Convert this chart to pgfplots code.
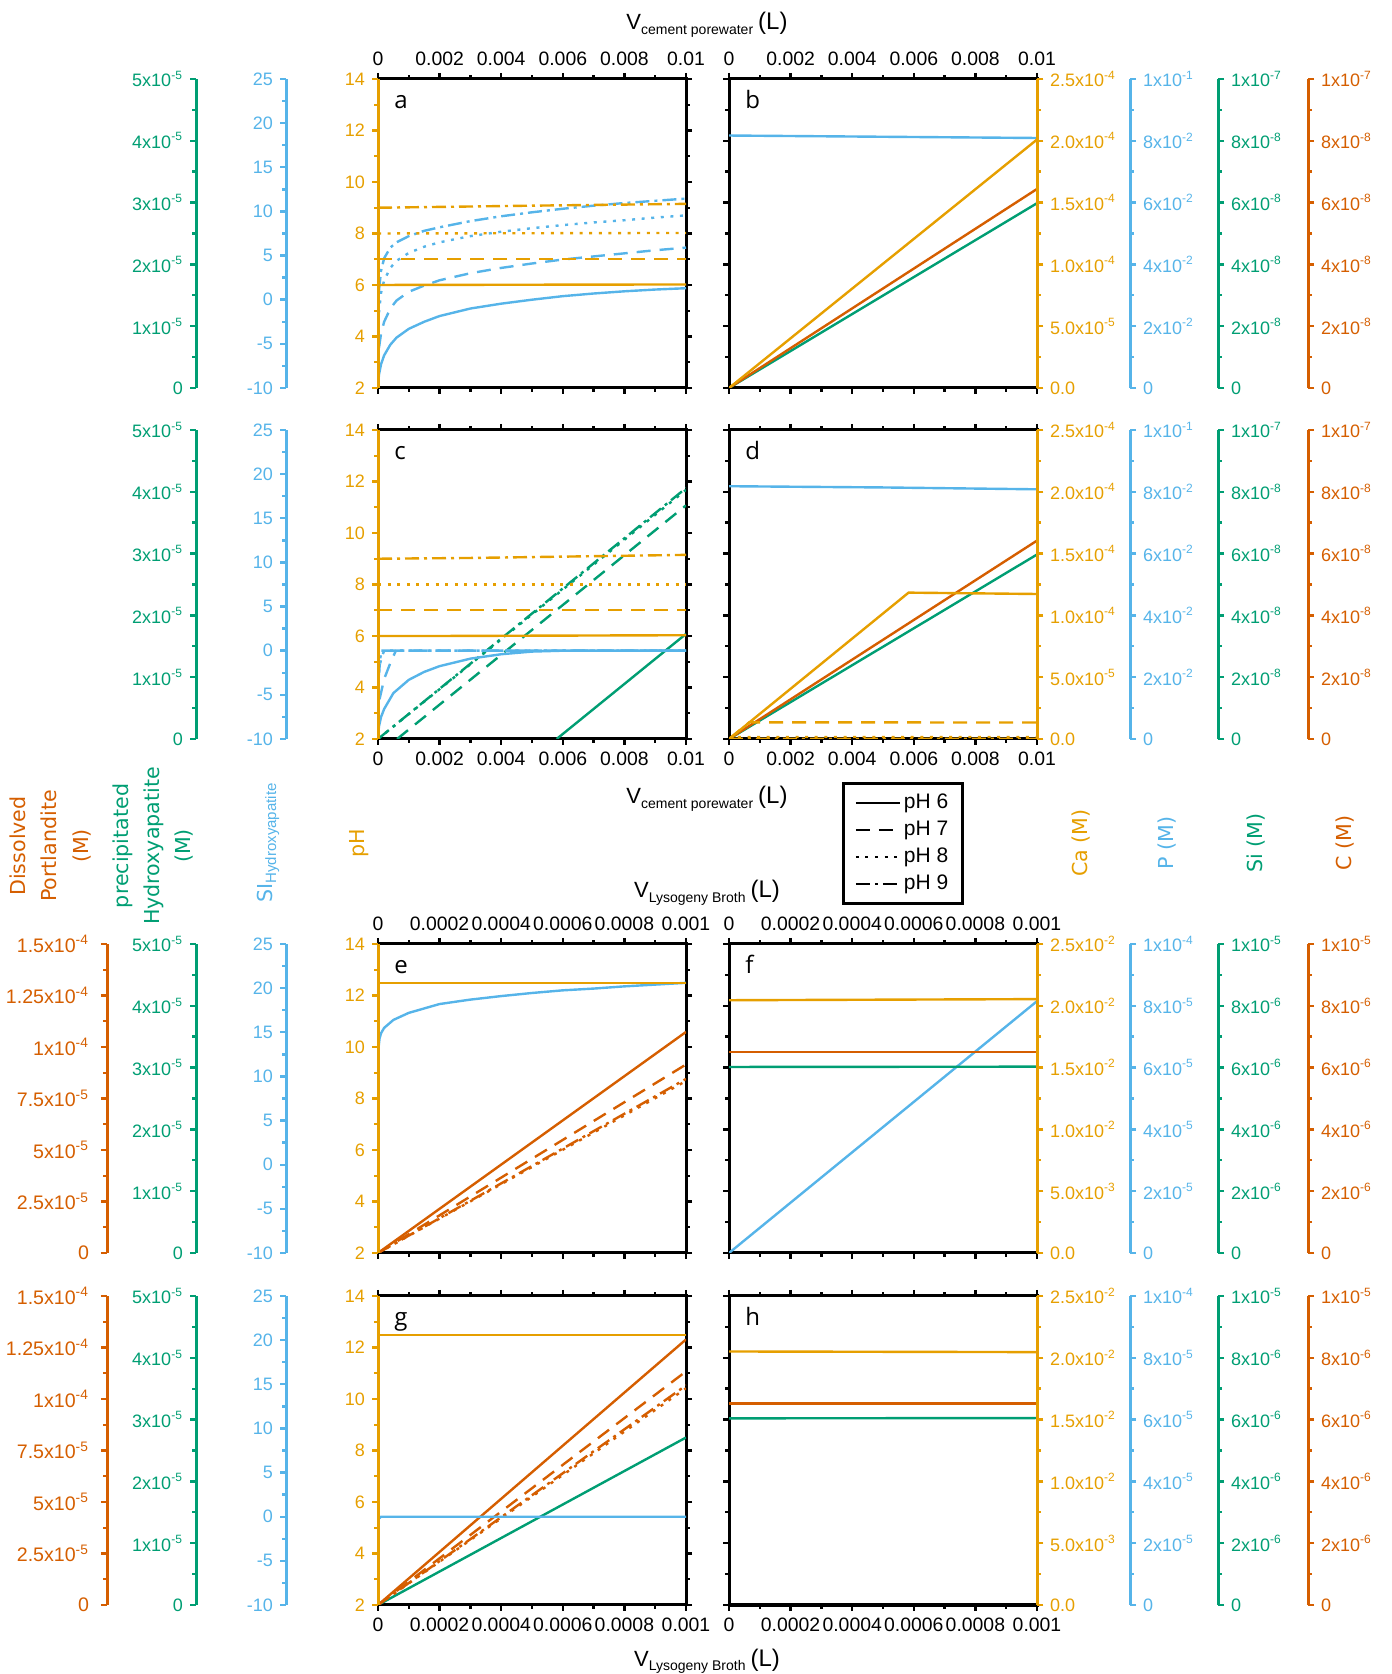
\documentclass[border=0pt]{standalone}
\usepackage{fontspec}
\setmainfont{Liberation Sans}
\newfontfamily\dejavu{DejaVu Sans}
\newfontfamily\opensans{Open Sans}
\usepackage{pgfplots}
\pgfplotsset{compat=1.18}
\definecolor{cOr}{HTML}{E69F00}
\definecolor{cBl}{HTML}{56B4E9}
\definecolor{cGr}{HTML}{009E73}
\definecolor{cVe}{HTML}{D55E00}
\newcommand{\tk}{\fontsize{9}{10}\selectfont}
\newcommand{\tkx}{\fontsize{9.7}{11}\selectfont}
\newcommand{\sx}[2]{#1x10\textsuperscript{#2}}
\newcommand{\vtitle}[1]{{\fontsize{11}{12}\selectfont V}\raisebox{-2.2pt}{\fontsize{7}{8}\selectfont #1}\hspace{2.5pt}{\fontsize{12}{13}\selectfont (L)}}
\tikzset{letter/.style={anchor=base west, font=\opensans\fontsize{12}{14}\selectfont},
  ttl/.style={rotate=90, align=center, font=\dejavu\fontsize{10.3}{15.7}\selectfont}}
\pgfplotsset{
  base/.style={scale only axis, height=154.5pt, scaled ticks=false, no markers,
    tick align=outside, major tick length=3pt, minor tick length=1.8pt,
    tick label style={font=\tk}, xticklabel style={font=\tkx},
    every tick/.append style={line width=1.2pt}},
  P/.style={base, width=154pt, anchor=south west},
  xA/.style={xmin=0,xmax=0.01,xtick={0,0.002,0.004,0.006,0.008,0.01},
    xticklabels={0,0.002,0.004,0.006,0.008,0.01},minor x tick num=1},
  xB/.style={xmin=0,xmax=0.001,xtick={0,0.0002,0.0004,0.0006,0.0008,0.001},
    xticklabels={0,0.0002,0.0004,0.0006,0.0008,0.001},minor x tick num=1},
  yPH/.style={ymin=2,ymax=14,ytick={2,4,6,8,10,12,14},minor y tick num=1},
  yCa/.style={ymin=0,ymax=2.5e-4,ytick={0,5e-5,1e-4,1.5e-4,2e-4,2.5e-4},minor y tick num=1},
  yCb/.style={ymin=0,ymax=0.025,ytick={0,0.005,0.01,0.015,0.02,0.025},minor y tick num=1},
  caA/.style={yCa,yticklabels={0.0,\sx{5.0}{-5},\sx{1.0}{-4},\sx{1.5}{-4},\sx{2.0}{-4},\sx{2.5}{-4}}},
  caB/.style={yCb,yticklabels={0.0,\sx{5.0}{-3},\sx{1.0}{-2},\sx{1.5}{-2},\sx{2.0}{-2},\sx{2.5}{-2}}},
  pA/.style={ymin=0,ymax=0.1,ytick={0,0.02,0.04,0.06,0.08,0.1},yticklabels={0,\sx{2}{-2},\sx{4}{-2},\sx{6}{-2},\sx{8}{-2},\sx{1}{-1}}},
  pB/.style={ymin=0,ymax=1e-4,ytick={0,2e-5,4e-5,6e-5,8e-5,1e-4},yticklabels={0,\sx{2}{-5},\sx{4}{-5},\sx{6}{-5},\sx{8}{-5},\sx{1}{-4}}},
  nA/.style={ymin=0,ymax=1e-7,ytick={0,2e-8,4e-8,6e-8,8e-8,1e-7},yticklabels={0,\sx{2}{-8},\sx{4}{-8},\sx{6}{-8},\sx{8}{-8},\sx{1}{-7}}},
  nB/.style={ymin=0,ymax=1e-5,ytick={0,2e-6,4e-6,6e-6,8e-6,1e-5},yticklabels={0,\sx{2}{-6},\sx{4}{-6},\sx{6}{-6},\sx{8}{-6},\sx{1}{-5}}},
  grA/.style={ymin=0,ymax=5e-5,ytick={0,1e-5,2e-5,3e-5,4e-5,5e-5},yticklabels={0,\sx{1}{-5},\sx{2}{-5},\sx{3}{-5},\sx{4}{-5},\sx{5}{-5}}},
  siA/.style={ymin=-10,ymax=25,ytick={-10,-5,0,5,10,15,20,25},yticklabels={-10,-5,0,5,10,15,20,25}},
  poA/.style={ymin=0,ymax=1.5e-4,ytick={0,2.5e-5,5e-5,7.5e-5,1e-4,1.25e-4,1.5e-4},yticklabels={0,\sx{2.5}{-5},\sx{5}{-5},\sx{7.5}{-5},\sx{1}{-4},\sx{1.25}{-4},\sx{1.5}{-4}}},
  frame/.style={P, axis line style={line width=1.5pt}, every tick/.append style={black}, yticklabels={,,,,,,,,,}},
  dat/.style={P, hide axis},
  ovL/.style={P, hide x axis, axis y line*=left, axis line style={cOr,line width=1.5pt},
    every tick/.append style={cOr}, yticklabel style={cOr}},
  ovR/.style={P, hide x axis, axis y line*=right, axis line style={cOr,line width=1.5pt},
    every tick/.append style={cOr}, yticklabel style={cOr}},
  sL/.style={base, width=10pt, anchor=south west, xmin=0,xmax=1, hide x axis, axis y line*=left,
    axis line style={#1,line width=1.5pt}, every tick/.append style={#1}, yticklabel style={#1}, minor y tick num=1},
  sR/.style={base, width=10pt, anchor=south east, xmin=0,xmax=1, hide x axis, axis y line*=right,
    axis line style={#1,line width=1.5pt}, every tick/.append style={#1}, yticklabel style={#1}, minor y tick num=1},
  poL/.style={sL=cVe, poA, yticklabel style={font=\fontsize{9.8}{10}\selectfont, xshift=-2.5pt}},
  s6/.style={line width=1.2pt},
  s7/.style={line width=1.2pt, dash pattern=on 7pt off 4.5pt},
  s8/.style={line width=1.2pt, dash pattern=on 1.5pt off 3.3pt},
  s9/.style={line width=1.2pt, dash pattern=on 7pt off 2.5pt on 1.5pt off 2.5pt},
}
\begin{document}
\begin{tikzpicture}
\path[use as bounding box] (0,0) rectangle (695.5pt,837pt);

% ================= ROW 1 : a , b =================
\begin{axis}[frame, at={(189pt,643pt)}, xA, yPH, xticklabel pos=top]
\node[letter] at (rel axis cs:0.03,0.903) {a};
\end{axis}
\begin{axis}[dat, at={(189pt,643pt)}, xA, siA]
\addplot[cBl,s6] coordinates {(0,-10) (0.00003,-8.5) (0.0001,-7.3) (0.0002,-6.3) (0.0004,-5.1) (0.0006,-4.3) (0.001,-3.3) (0.0015,-2.5) (0.002,-1.85) (0.003,-1.0) (0.004,-0.45) (0.005,0.0) (0.006,0.4) (0.007,0.7) (0.008,0.95) (0.009,1.15) (0.01,1.3)};
\addplot[cBl,s7] coordinates {(0.00003,-5.5) (0.0001,-3.8) (0.0002,-2.5) (0.0004,-1.0) (0.0006,-0.1) (0.001,0.9) (0.0015,1.6) (0.002,2.2) (0.003,3.0) (0.004,3.6) (0.005,4.1) (0.006,4.55) (0.007,4.9) (0.008,5.25) (0.009,5.6) (0.01,5.9)};
\addplot[cBl,s8] coordinates {(0.00003,-1.5) (0.0001,0.8) (0.0002,2.2) (0.0004,3.6) (0.0006,4.4) (0.001,5.3) (0.0015,6.0) (0.002,6.5) (0.003,7.2) (0.004,7.7) (0.005,8.1) (0.006,8.45) (0.007,8.75) (0.008,9.0) (0.009,9.3) (0.01,9.55)};
\addplot[cBl,s9] coordinates {(0.00003,1.0) (0.0001,3.3) (0.0002,4.7) (0.0004,5.9) (0.0006,6.5) (0.001,7.2) (0.0015,7.8) (0.002,8.2) (0.003,8.9) (0.004,9.45) (0.005,9.9) (0.006,10.3) (0.007,10.65) (0.008,10.95) (0.009,11.2) (0.01,11.45)};
\end{axis}
\begin{axis}[ovL, at={(189pt,643pt)}, xA, yPH, yticklabels={2,4,6,8,10,12,14}]
\addplot[cOr,s6] coordinates {(0,6.0) (0.01,6.02)};
\addplot[cOr,s7] coordinates {(0,7.0) (0.01,7.0)};
\addplot[cOr,s8] coordinates {(0,8.0) (0.01,8.02)};
\addplot[cOr,s9] coordinates {(0,9.0) (0.005,9.08) (0.01,9.15)};
\end{axis}

\begin{axis}[frame, at={(364.5pt,643pt)}, xA, yCa, xticklabel pos=top]
\node[letter] at (rel axis cs:0.03,0.903) {b};
\end{axis}
\begin{axis}[dat, at={(364.5pt,643pt)}, xA, pA]
\addplot[cBl,s6] coordinates {(0,0.0817) (0.005,0.0813) (0.01,0.0809)};
\end{axis}
\begin{axis}[dat, at={(364.5pt,643pt)}, xA, nA]
\addplot[cGr,s6] coordinates {(0,0) (0.01,5.98e-8)};
\end{axis}
\begin{axis}[dat, at={(364.5pt,643pt)}, xA, nA]
\addplot[cVe,s6] coordinates {(0,0) (0.01,6.44e-8)};
\end{axis}
\begin{axis}[ovR, at={(364.5pt,643pt)}, xA, caA]
\addplot[cOr,s6] coordinates {(0,0) (0.01,2.01e-4)};
\end{axis}

\begin{axis}[sL=cGr, at={(98pt,643pt)}, grA]\end{axis}
\begin{axis}[sL=cBl, at={(143pt,643pt)}, siA]\end{axis}
\begin{axis}[sR=cBl, at={(565pt,643pt)}, pA]\end{axis}
\begin{axis}[sR=cGr, at={(609pt,643pt)}, nA]\end{axis}
\begin{axis}[sR=cVe, at={(654pt,643pt)}, nA]\end{axis}

% ================= ROW 2 : c , d =================
\begin{axis}[frame, at={(189pt,467.5pt)}, xA, yPH, xticklabel pos=bottom]
\node[letter] at (rel axis cs:0.03,0.903) {c};
\end{axis}
\begin{axis}[dat, at={(189pt,467.5pt)}, xA, grA]
\addplot[cGr,s6] coordinates {(0.0058,0) (0.01,1.70e-5)};
\addplot[cGr,s7] coordinates {(0.00062,0) (0.01,3.78e-5)};
\addplot[cGr,s8] coordinates {(0,0) (0.01,4.03e-5)};
\addplot[cGr,s9] coordinates {(0,0) (0.01,4.06e-5)};
\end{axis}
\begin{axis}[dat, at={(189pt,467.5pt)}, xA, siA]
\addplot[cBl,s6] coordinates {(0,-10) (0.00003,-8.6) (0.0001,-7.5) (0.0002,-6.6) (0.0005,-4.8) (0.001,-3.3) (0.0015,-2.4) (0.002,-1.75) (0.003,-0.9) (0.004,-0.4) (0.005,-0.1) (0.006,0) (0.01,0)};
\addplot[cBl,s7] coordinates {(0.00005,-5.5) (0.0002,-3.2) (0.0004,-1.4) (0.00058,0) (0.01,0)};
\addplot[cBl,s8] coordinates {(0.00003,-2.5) (0.0001,-0.9) (0.0002,0) (0.01,0)};
\addplot[cBl,s9] coordinates {(0.00002,-3.0) (0.0001,0) (0.01,0)};
\end{axis}
\begin{axis}[ovL, at={(189pt,467.5pt)}, xA, yPH, yticklabels={2,4,6,8,10,12,14}]
\addplot[cOr,s6] coordinates {(0,6.0) (0.002,6.0) (0.01,6.03)};
\addplot[cOr,s7] coordinates {(0,7.0) (0.01,7.0)};
\addplot[cOr,s8] coordinates {(0,8.0) (0.01,8.0)};
\addplot[cOr,s9] coordinates {(0,9.0) (0.003,9.03) (0.01,9.15)};
\end{axis}

\begin{axis}[frame, at={(364.5pt,467.5pt)}, xA, yCa, xticklabel pos=bottom,
  legend style={at={(0.367,-0.139)}, anchor=north west, draw=black, line width=1.5pt,
    font=\fontsize{10.5}{11}\selectfont,
    inner xsep=5.5pt, inner ysep=3pt, row sep=0pt, cells={anchor=west},
    nodes={inner sep=1.5pt, text height=8pt, text depth=2.5pt}},
  legend image code/.code={\draw[#1] (0pt,0pt) -- (22pt,0pt);}]
\addlegendimage{black,s6}
\addlegendimage{black,s7}
\addlegendimage{black,s8}
\addlegendimage{black,s9}
\legend{pH 6,pH 7,pH 8,pH 9}
\node[letter] at (rel axis cs:0.03,0.903) {d};
\end{axis}
\begin{axis}[dat, at={(364.5pt,467.5pt)}, xA, pA]
\addplot[cBl,s6] coordinates {(0,0.0818) (0.005,0.0814) (0.01,0.0808)};
\end{axis}
\begin{axis}[dat, at={(364.5pt,467.5pt)}, xA, nA]
\addplot[cGr,s6] coordinates {(0,0) (0.01,5.97e-8)};
\end{axis}
\begin{axis}[dat, at={(364.5pt,467.5pt)}, xA, nA]
\addplot[cVe,s6] coordinates {(0,0) (0.01,6.42e-8)};
\end{axis}
\begin{axis}[ovR, at={(364.5pt,467.5pt)}, xA, caA]
\addplot[cOr,s6] coordinates {(0,0) (0.00583,1.184e-4) (0.01,1.173e-4)};
\addplot[cOr,s7] coordinates {(0,0) (0.00066,1.35e-5) (0.01,1.33e-5)};
\addplot[cOr,s8] coordinates {(0,0) (0.00008,1.6e-6) (0.01,1.6e-6)};
\addplot[cOr,s9] coordinates {(0,0) (0.00001,2e-7) (0.01,2e-7)};
\end{axis}

\begin{axis}[sL=cGr, at={(98pt,467.5pt)}, grA]\end{axis}
\begin{axis}[sL=cBl, at={(143pt,467.5pt)}, siA]\end{axis}
\begin{axis}[sR=cBl, at={(565pt,467.5pt)}, pA]\end{axis}
\begin{axis}[sR=cGr, at={(609pt,467.5pt)}, nA]\end{axis}
\begin{axis}[sR=cVe, at={(654pt,467.5pt)}, nA]\end{axis}

% ================= ROW 3 : e , f =================
\begin{axis}[frame, at={(189pt,210.5pt)}, xB, yPH, xticklabel pos=top]
\node[letter] at (rel axis cs:0.03,0.903) {e};
\end{axis}
\begin{axis}[dat, at={(189pt,210.5pt)}, xB, poA]
\addplot[cVe,s6] coordinates {(0,0) (0.001,1.073e-4)};
\addplot[cVe,s7] coordinates {(0,0) (0.001,9.15e-5)};
\addplot[cVe,s8] coordinates {(0,0) (0.001,8.35e-5)};
\addplot[cVe,s9] coordinates {(0,0) (0.001,8.45e-5)};
\end{axis}
\begin{axis}[dat, at={(189pt,210.5pt)}, xB, siA]
\addplot[cBl,s6] coordinates {(0,12.7) (0.000005,14.3) (0.00001,14.9) (0.00002,15.5) (0.00005,16.4) (0.0001,17.2) (0.0002,18.2) (0.0003,18.7) (0.0004,19.1) (0.0005,19.45) (0.0006,19.75) (0.0007,19.95) (0.0008,20.2) (0.0009,20.4) (0.001,20.6)};
\end{axis}
\begin{axis}[ovL, at={(189pt,210.5pt)}, xB, yPH, yticklabels={2,4,6,8,10,12,14}]
\addplot[cOr,s6] coordinates {(0,12.49) (0.001,12.49)};
\end{axis}

\begin{axis}[frame, at={(364.5pt,210.5pt)}, xB, yCb, xticklabel pos=top]
\node[letter] at (rel axis cs:0.03,0.903) {f};
\end{axis}
\begin{axis}[dat, at={(364.5pt,210.5pt)}, xB, pB]
\addplot[cBl,s6] coordinates {(0,0) (0.001,8.15e-5)};
\end{axis}
\begin{axis}[dat, at={(364.5pt,210.5pt)}, xB, nB]
\addplot[cGr,s6] coordinates {(0,6.02e-6) (0.001,6.03e-6)};
\end{axis}
\begin{axis}[dat, at={(364.5pt,210.5pt)}, xB, nB]
\addplot[cVe,s6] coordinates {(0,6.51e-6) (0.001,6.51e-6)};
\end{axis}
\begin{axis}[ovR, at={(364.5pt,210.5pt)}, xB, caB]
\addplot[cOr,s6] coordinates {(0,0.02045) (0.001,0.02054)};
\end{axis}

\begin{axis}[poL, at={(53.5pt,210.5pt)}]\end{axis}
\begin{axis}[sL=cGr, at={(98pt,210.5pt)}, grA]\end{axis}
\begin{axis}[sL=cBl, at={(143pt,210.5pt)}, siA]\end{axis}
\begin{axis}[sR=cBl, at={(565pt,210.5pt)}, pB]\end{axis}
\begin{axis}[sR=cGr, at={(609pt,210.5pt)}, nB]\end{axis}
\begin{axis}[sR=cVe, at={(654pt,210.5pt)}, nB]\end{axis}

% ================= ROW 4 : g , h =================
\begin{axis}[frame, at={(189pt,34.5pt)}, xB, yPH, xticklabel pos=bottom]
\node[letter] at (rel axis cs:0.03,0.903) {g};
\end{axis}
\begin{axis}[dat, at={(189pt,34.5pt)}, xB, grA]
\addplot[cGr,s6] coordinates {(0,0) (0.001,2.71e-5)};
\end{axis}
\begin{axis}[dat, at={(189pt,34.5pt)}, xB, poA]
\addplot[cVe,s6] coordinates {(0,0) (0.001,1.289e-4)};
\addplot[cVe,s7] coordinates {(0,0) (0.001,1.134e-4)};
\addplot[cVe,s8] coordinates {(0,0) (0.001,1.052e-4)};
\addplot[cVe,s9] coordinates {(0,0) (0.001,1.066e-4)};
\end{axis}
\begin{axis}[dat, at={(189pt,34.5pt)}, xB, siA]
\addplot[cBl,s6] coordinates {(0,-0.3) (0.00001,0) (0.001,0)};
\end{axis}
\begin{axis}[ovL, at={(189pt,34.5pt)}, xB, yPH, yticklabels={2,4,6,8,10,12,14}]
\addplot[cOr,s6] coordinates {(0,12.49) (0.001,12.49)};
\end{axis}

\begin{axis}[frame, at={(364.5pt,34.5pt)}, xB, yCb, xticklabel pos=bottom]
\node[letter] at (rel axis cs:0.03,0.903) {h};
\end{axis}
\begin{axis}[dat, at={(364.5pt,34.5pt)}, xB, nB]
\addplot[cGr,s6] coordinates {(0,6.04e-6) (0.001,6.05e-6)};
\end{axis}
\begin{axis}[dat, at={(364.5pt,34.5pt)}, xB, nB]
\addplot[cVe,s6] coordinates {(0,6.52e-6) (0.001,6.52e-6)};
\end{axis}
\begin{axis}[ovR, at={(364.5pt,34.5pt)}, xB, caB]
\addplot[cOr,s6] coordinates {(0,0.02051) (0.001,0.02046)};
\end{axis}

\begin{axis}[poL, at={(53.5pt,34.5pt)}]\end{axis}
\begin{axis}[sL=cGr, at={(98pt,34.5pt)}, grA]\end{axis}
\begin{axis}[sL=cBl, at={(143pt,34.5pt)}, siA]\end{axis}
\begin{axis}[sR=cBl, at={(565pt,34.5pt)}, pB]\end{axis}
\begin{axis}[sR=cGr, at={(609pt,34.5pt)}, nB]\end{axis}
\begin{axis}[sR=cVe, at={(654pt,34.5pt)}, nB]\end{axis}

% ================= titles =================
\node[anchor=base] at (353.5pt,822pt) {\vtitle{cement porewater}};
\node[anchor=base] at (353.5pt,435pt) {\vtitle{cement porewater}};
\node[anchor=base] at (353.5pt,388pt) {\vtitle{Lysogeny Broth}};
\node[anchor=base] at (353.5pt,4pt) {\vtitle{Lysogeny Broth}};

\node[ttl, text=cVe] at (25.25pt,414pt) {Dissolved\\Portlandite\\(M)};
\node[ttl, text=cGr] at (76.5pt,414pt) {precipitated\\Hydroxyapatite\\(M)};
\node[ttl, text=cBl] at (134pt,415.5pt) {SI\raisebox{-2pt}{\rmfamily\fontsize{7.5}{8}\selectfont Hydroxyapatite}};
\node[ttl, text=cOr] at (179.5pt,415.5pt) {pH};
\node[ttl, text=cOr] at (540.5pt,415.5pt) {Ca (M)};
\node[ttl, text=cBl] at (583.5pt,415.5pt) {P (M)};
\node[ttl, text=cGr] at (628pt,415.5pt) {Si (M)};
\node[ttl, text=cVe] at (672.5pt,415.5pt) {C (M)};
\end{tikzpicture}
\end{document}
